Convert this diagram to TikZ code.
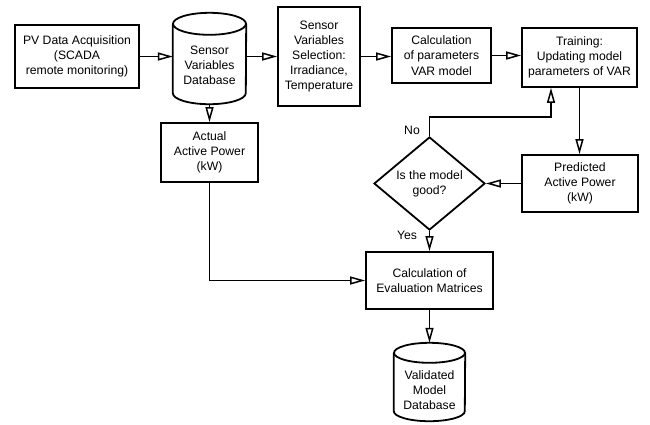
\documentclass[tikz,border=0pt]{standalone}
\usepackage{fontspec}
\setmainfont{Liberation Sans}
\usetikzlibrary{arrows.meta,shapes.geometric,calc}
\tikzset{
  ln/.style={line width=1.8pt},
  box/.style={ln,draw,rectangle,align=center,inner sep=0pt,font=\fontsize{12.2}{15.2}\selectfont},
  dbbox/.style={rectangle,draw=none,inner sep=0pt},
  txt/.style={align=center,inner sep=0pt,font=\fontsize{12.2}{15.2}\selectfont},
  arr/.style={ln,-{Triangle[open,length=15pt,width=8pt,line width=1.5pt]}},
  dec/.style={ln,draw,diamond,align=center,inner sep=0pt,font=\fontsize{12.2}{15.2}\selectfont}
}
\newcommand\dbdraw[3]{% name, rx, ry
  \draw[ln,fill=white] ($(#1.north west)+(0,-#3)$) -- ($(#1.south west)+(0,#3)$)
     arc[start angle=180,end angle=360,x radius=#2,y radius=#3]
     -- ($(#1.north east)+(0,-#3)$);
  \draw[ln] ($(#1.north)+(0,-#3)$) ellipse[x radius=#2,y radius=#3];
}
\begin{document}
\begin{tikzpicture}[x=1pt,y=1pt]
\useasboundingbox (0,0) rectangle (650,-424);
% nodes
\node[box,minimum width=124pt,minimum height=63pt] (pv) at (77,-56.5) {PV Data Acquisition\\(SCADA\\remote monitoring)};
\node[dbbox,minimum width=73pt,minimum height=91pt] (db) at (209.5,-58.5) {};
\dbdraw{db}{36.5}{11}
\node[txt] (dbt) at (209.5,-65) {Sensor\\Variables\\Database};
\node[box,minimum width=82pt,minimum height=99pt] (svs) at (319,-56.5) {Sensor\\Variables\\Selection:\\Irradiance,\\Temperature};
\node[box,minimum width=99pt,minimum height=55pt] (cal) at (441.5,-55.5) {Calculation\\of parameters\\VAR model};
\node[box,minimum width=115pt,minimum height=59pt] (tr) at (579.5,-57.5) {Training:\\Updating model\\parameters of VAR};
\node[box,minimum width=97pt,minimum height=59pt] (act) at (209.5,-152.5) {Actual\\Active Power\\(kW)};
\node[box,minimum width=116pt,minimum height=57pt] (pred) at (580,-183.5) {Predicted\\Active Power\\(kW)};
\node[dec,minimum width=111pt,minimum height=73pt] (good) at (429.5,-183.5) {Is the model\\good?};
\node[box,minimum width=127pt,minimum height=57pt] (eval) at (429.5,-280.5) {Calculation of\\Evaluation Matrices};
\node[dbbox,minimum width=71pt,minimum height=78pt] (vdb) at (429.5,-382) {};
\dbdraw{vdb}{35.5}{10}
\node[txt] (vdbt) at (429.5,-390) {Validated\\Model\\Database};
\coordinate (c1) at (429.5,-117);
\coordinate (c2) at (551,-117);
\node[txt] (no) at (412,-130) {No};
\node[txt] (yes) at (407,-235) {Yes};
% connectors
\draw[arr] (pv.east) -- (pv.east -| db.west);
\draw[arr] (db.east |- svs.west) -- (svs.west);
\draw[arr] (svs.east) -- (svs.east -| cal.west);
\draw[arr] (cal.east) -- (cal.east -| tr.west);
\draw[arr] (db.south) -- (act.north);
\draw[arr] (tr.south) -- (tr.south |- pred.north);
\draw[arr] (pred.west) -- (good.east);
\draw[arr] (good.north) -- (c1) -- (c2) -- (c2 |- tr.south);
\draw[arr] (good.south) -- (eval.north);
\draw[arr] (act.south) |- (eval.west);
\draw[arr] (eval.south) -- (vdb.north);
\end{tikzpicture}
\end{document}
